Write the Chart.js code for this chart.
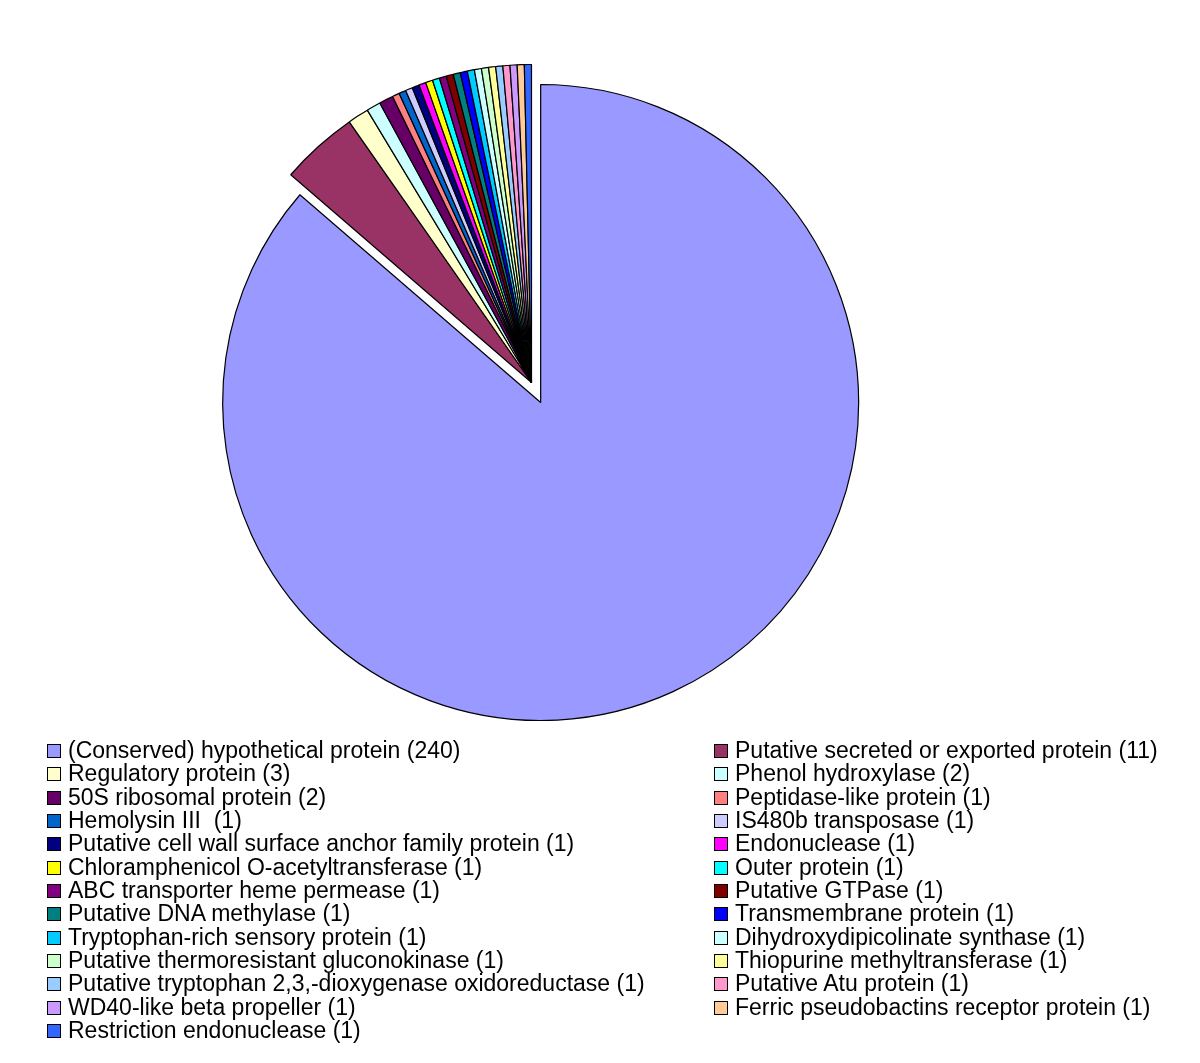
<!DOCTYPE html>
<html>
<head>
<meta charset="utf-8">
<script src="https://cdn.jsdelivr.net/npm/chart.js@4/dist/chart.umd.min.js"></script>
<style>
  body { margin: 0; background: #fff; width: 1200px; height: 1063px; position: relative; overflow: hidden; }
  #wrap { position: absolute; left: 0; top: 0; width: 1063px; height: 765px; }
  .legend { position: absolute; font-family: "Liberation Sans", Arial, sans-serif; font-size: 23px; color: #000; }
  .legend div { position: relative; height: 23.35px; line-height: 23.35px; white-space: pre; padding-left: 21px; }
  .legend span.box { position: absolute; left: 0; top: 5px; width: 12px; height: 12px; border: 1px solid #000; }
</style>
</head>
<body>
<div id="wrap"><canvas id="pie"></canvas></div>
<div class="legend" id="leg1" style="left:47px; top:739px;"></div>
<div class="legend" id="leg2" style="left:714px; top:739px;"></div>
<script>
// slices in drawing order (clockwise from 12 o'clock)
var labels = [
  "(Conserved) hypothetical protein (240)",
  "Putative secreted or exported protein (11)",
  "Regulatory protein (3)",
  "Phenol hydroxylase (2)",
  "50S ribosomal protein (2)",
  "Peptidase-like protein (1)",
  "Hemolysin III  (1)",
  "IS480b transposase (1)",
  "Putative cell wall surface anchor family protein (1)",
  "Endonuclease (1)",
  "Chloramphenicol O-acetyltransferase (1)",
  "Outer protein (1)",
  "ABC transporter heme permease (1)",
  "Putative GTPase (1)",
  "Putative DNA methylase (1)",
  "Transmembrane protein (1)",
  "Tryptophan-rich sensory protein (1)",
  "Dihydroxydipicolinate synthase (1)",
  "Putative thermoresistant gluconokinase (1)",
  "Thiopurine methyltransferase (1)",
  "Putative tryptophan 2,3,-dioxygenase oxidoreductase (1)",
  "Putative Atu protein (1)",
  "WD40-like beta propeller (1)",
  "Ferric pseudobactins receptor protein (1)",
  "Restriction endonuclease (1)"
];
var counts = [240, 11, 3, 2, 2, 1, 1, 1, 1, 1, 1, 1, 1, 1, 1, 1, 1, 1, 1, 1, 1, 1, 1, 1, 1];
var colors = [
  "#9999FF", "#993366", "#FFFFCC", "#CCFFFF", "#660066", "#FF8080", "#0066CC",
  "#CCCCFF", "#000080", "#FF00FF", "#FFFF00", "#00FFFF", "#800080", "#800000",
  "#008080", "#0000FF", "#00CCFF", "#CCFFFF", "#CCFFCC", "#FFFF99", "#99CCFF",
  "#FF99CC", "#CC99FF", "#FFCC99", "#3366FF"
];

var explode = 22; // px the big slice is pulled out

// chart.js grows big arcs instead of moving them, so shift the first arc by hand
var explodePlugin = {
  id: 'explodeFirst',
  afterUpdate: function (chart) {
    var arc = chart.getDatasetMeta(0).data[0];
    if (!arc || arc._exploded) return;
    var baseDraw = arc.draw;
    arc.draw = function (c) {
      var half = (this.startAngle + this.endAngle) / 2;
      c.save();
      c.translate(Math.cos(half) * explode, Math.sin(half) * explode);
      baseDraw.call(this, c);
      c.restore();
    };
    arc._exploded = true;
  }
};

var ctx = document.getElementById("pie");

var pieChart = new Chart(ctx, {
  type: 'pie',
  data: {
    labels: labels,
    datasets: [{
      data: counts,
      backgroundColor: colors,
      borderColor: '#000',
      borderWidth: 1.2
    }]
  },
  options: {
    responsive: true,
    maintainAspectRatio: false,
    animation: false,
    radius: 318,
    layout: { padding: 0 },
    plugins: {
      legend: { display: false },
      tooltip: { enabled: false }
    }
  },
  plugins: [explodePlugin]
});

// legend in two columns, read row by row
var leg1 = document.getElementById("leg1");
var leg2 = document.getElementById("leg2");
labels.forEach(function (lab, i) {
  var row = document.createElement("div");
  var box = document.createElement("span");
  box.className = "box";
  box.style.background = colors[i];
  row.appendChild(box);
  row.appendChild(document.createTextNode(lab));
  (i % 2 === 0 ? leg1 : leg2).appendChild(row);
});
</script>
</body>
</html>
